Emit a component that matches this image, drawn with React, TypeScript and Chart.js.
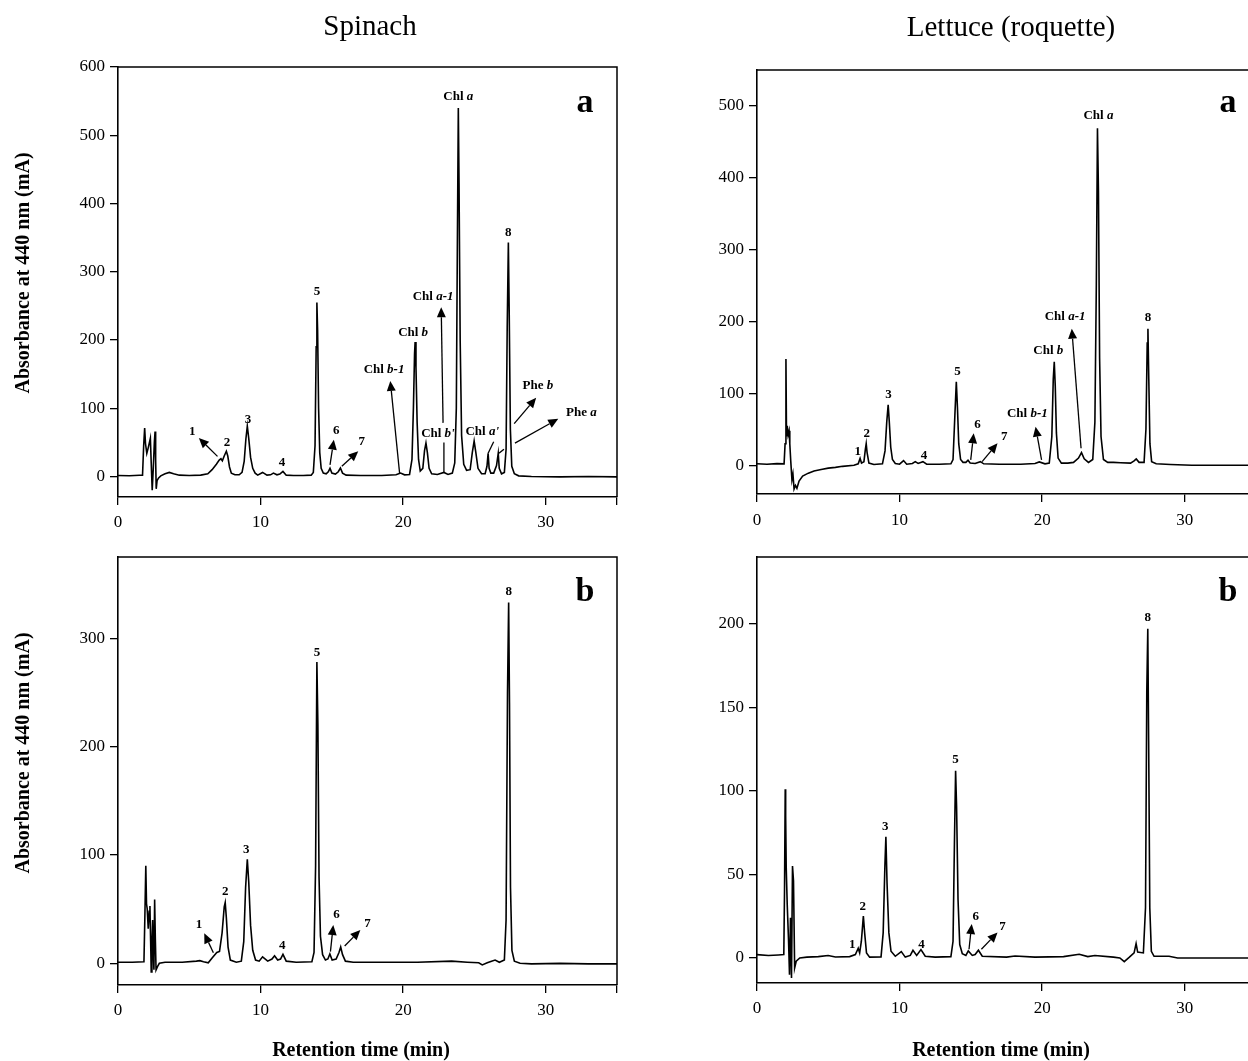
import React, { useEffect, useRef } from "react";
import { Chart, registerables } from "chart.js";

Chart.register(...registerables);

// ---------------- DATA ----------------
const X_TICKS = [0, 10, 20, 30, 35];
const Y_TICKS_SPINACH_A = [0, 100, 200, 300, 400, 500, 600];
const Y_TICKS_LETTUCE_A = [0, 100, 200, 300, 400, 500];
const Y_TICKS_SPINACH_B = [0, 100, 200, 300];
const Y_TICKS_LETTUCE_B = [0, 50, 100, 150, 200];

const PANEL_TITLES = ["Spinach", "Lettuce (roquette)"];
const Y_TITLE = "Absorbance at 440 nm (mA)";
const X_TITLE = "Retention time (min)";

// [retention time (min), absorbance (mA)]
const SPINACH_A: [number, number][] = [
  [0, 1.5], [0.8, 1.2], [1.5, 1.8], [1.72, 2], [1.8, 45], [1.87, 71], [1.93, 48], [2.02, 34], [2.12, 42], [2.27, 56],
  [2.33, 20], [2.4, -20], [2.47, 10], [2.55, 50], [2.6, 66], [2.64, 25], [2.68, -18], [2.74, -6], [2.85, -2], [3.0, 1],
  [3.3, 4], [3.6, 6], [3.9, 4], [4.3, 2], [5.0, 1.5], [5.8, 2], [6.3, 4], [6.6, 10], [6.9, 18], [7.1, 24], [7.22, 26],
  [7.32, 23], [7.45, 30], [7.6, 37], [7.7, 30], [7.82, 14], [7.95, 5], [8.2, 2.5], [8.5, 2.5], [8.7, 6], [8.85, 22],
  [8.97, 55], [9.07, 74], [9.17, 56], [9.3, 28], [9.45, 12], [9.62, 5], [9.8, 2], [10.14, 6], [10.45, 2], [10.7, 2.5],
  [10.9, 5], [11.15, 2.5], [11.35, 3.5], [11.57, 7.5], [11.8, 2], [12.3, 1.5], [13.0, 1.5], [13.55, 2], [13.7, 6],
  [13.82, 45], [13.9, 190], [13.95, 255], [14.0, 215], [14.07, 100], [14.15, 35], [14.25, 12], [14.4, 5], [14.6, 4],
  [14.75, 7], [14.87, 12], [15.0, 5], [15.25, 3.5], [15.45, 7], [15.6, 12.5], [15.75, 5], [16.0, 2], [17.0, 1.5],
  [18.5, 1.5], [19.5, 2.5], [19.82, 5], [20.1, 2.5], [20.45, 3], [20.62, 25], [20.72, 100], [20.8, 180], [20.84, 197],
  [20.9, 160], [20.98, 80], [21.08, 25], [21.2, 8], [21.38, 12], [21.5, 38], [21.6, 49], [21.7, 35], [21.82, 12],
  [22.0, 4], [22.4, 3], [22.86, 6], [23.15, 3], [23.45, 5], [23.62, 20], [23.73, 100], [23.8, 330], [23.87, 540],
  [23.92, 430], [24.0, 200], [24.1, 60], [24.25, 18], [24.45, 9], [24.7, 10], [24.85, 35], [24.98, 52], [25.1, 35],
  [25.25, 12], [25.5, 4], [25.75, 4], [25.88, 15], [25.96, 34], [26.03, 12], [26.15, 5], [26.35, 5], [26.55, 16],
  [26.67, 34], [26.74, 12], [26.9, 4], [27.1, 6], [27.22, 40], [27.3, 220], [27.38, 343], [27.44, 240], [27.52, 70],
  [27.62, 15], [27.8, 4], [28.1, 1], [29.0, 0], [31.0, -0.5], [33.0, 0], [35, -0.5],
];

const LETTUCE_A: [number, number][] = [
  [0, 2], [0.7, 1.5], [1.4, 2.2], [1.9, 2], [1.97, 30], [2.03, 148], [2.07, 40], [2.12, 55], [2.18, 42], [2.25, 48],
  [2.3, 30], [2.37, 5], [2.45, -20], [2.52, -12], [2.6, -33], [2.7, -28], [2.8, -32], [2.95, -22], [3.2, -15],
  [3.6, -11], [4.0, -8], [4.5, -6], [5.0, -4], [5.5, -3], [6.0, -1.5], [6.8, 0], [7.1, 2], [7.23, 9.5], [7.33, 3],
  [7.5, 5], [7.6, 22], [7.66, 30], [7.72, 18], [7.85, 3], [8.2, 1], [8.8, 2], [8.98, 20], [9.1, 60], [9.2, 84],
  [9.28, 60], [9.38, 25], [9.5, 8], [9.7, 2.5], [10.0, 1.5], [10.28, 6.5], [10.5, 1.5], [10.9, 2.5], [11.1, 5],
  [11.3, 2.5], [11.64, 5], [11.9, 1.5], [12.8, 1.5], [13.6, 2], [13.75, 8], [13.88, 70], [13.98, 116], [14.06, 80],
  [14.15, 30], [14.28, 8], [14.45, 4], [14.65, 4], [14.8, 7], [14.95, 3], [15.3, 2.5], [15.67, 5], [15.9, 2], [17.0, 1.5],
  [18.5, 1.5], [19.5, 2.5], [19.8, 4.6], [20.2, 2], [20.5, 3], [20.68, 40], [20.78, 120], [20.85, 144], [20.92, 110],
  [21.0, 45], [21.12, 10], [21.35, 3], [21.8, 3], [22.2, 4], [22.55, 10], [22.76, 17.6], [22.95, 9], [23.25, 4],
  [23.55, 8], [23.7, 60], [23.8, 250], [23.88, 469], [23.95, 380], [24.03, 150], [24.13, 40], [24.3, 8], [24.6, 4],
  [25.0, 4], [25.5, 3.5], [26.2, 3], [26.45, 6], [26.6, 8.8], [26.8, 4], [27.15, 4], [27.28, 50], [27.37, 170],
  [27.42, 190], [27.48, 120], [27.56, 30], [27.68, 5], [28.0, 2], [29.0, 1], [30.5, 0], [35, 0],
];

const SPINACH_B: [number, number][] = [
  [0, 1], [1.0, 1], [1.82, 1.5], [1.88, 40], [1.95, 90], [2.0, 55], [2.05, 50], [2.12, 32], [2.19, 48], [2.24, 53],
  [2.29, 20], [2.33, -8], [2.38, 18], [2.43, 40], [2.48, 8], [2.52, -6], [2.57, 59], [2.62, 22], [2.67, -6], [2.77, -3],
  [2.9, 0], [3.3, 1], [4.5, 1], [5.5, 2], [5.74, 2.5], [6.0, 1.5], [6.33, 0.5], [6.6, 5], [6.93, 10], [7.12, 11],
  [7.3, 28], [7.45, 52], [7.52, 56], [7.6, 42], [7.72, 15], [7.88, 3], [8.3, 1], [8.65, 2], [8.82, 20], [8.95, 70],
  [9.07, 96], [9.17, 75], [9.3, 35], [9.45, 12], [9.65, 3], [9.9, 2], [10.14, 6], [10.5, 2], [10.8, 4], [10.98, 7],
  [11.2, 3], [11.4, 4], [11.57, 8.3], [11.8, 2], [12.5, 1], [13.6, 1.5], [13.75, 10], [13.86, 90], [13.95, 278],
  [14.02, 220], [14.1, 80], [14.2, 25], [14.35, 8], [14.55, 3], [14.72, 4], [14.86, 8.6], [15.02, 3], [15.3, 4],
  [15.5, 10], [15.62, 15], [15.75, 8], [15.95, 2], [16.5, 1], [18.0, 1], [21.0, 1], [23.4, 2], [24.5, 1], [25.3, 0.5],
  [25.55, -1.5], [25.9, 0.5], [26.2, 2], [26.45, 3], [26.75, 1], [27.1, 3], [27.22, 40], [27.32, 250], [27.4, 333],
  [27.46, 240], [27.53, 70], [27.63, 12], [27.8, 2], [28.2, 0], [29.0, -0.5], [31.0, 0], [33.0, -0.5], [35, -0.5],
];

const LETTUCE_B: [number, number][] = [
  [0, 2], [0.8, 1.5], [1.5, 1.8], [1.88, 2], [1.93, 40], [1.98, 101], [2.01, 85], [2.05, 54], [2.12, 32], [2.21, 11],
  [2.28, -10], [2.35, 24], [2.42, -12], [2.49, 55], [2.56, 46], [2.64, -6], [2.75, -2], [3.0, 0], [3.5, 0.5], [4.3, 0.8],
  [4.99, 1.5], [5.5, 0.6], [6.5, 0.8], [6.9, 2], [7.1, 5.8], [7.2, 3], [7.32, 10], [7.46, 25], [7.55, 15], [7.68, 3],
  [7.9, 0.5], [8.7, 0.6], [8.85, 15], [8.97, 55], [9.04, 72.5], [9.12, 45], [9.25, 15], [9.4, 4], [9.7, 1], [10.12, 3.8],
  [10.4, 0.5], [10.75, 1.5], [10.94, 4.6], [11.2, 1.5], [11.5, 5], [11.8, 1], [12.5, 0.5], [13.6, 0.8], [13.75, 10],
  [13.85, 70], [13.93, 112], [14.0, 90], [14.1, 35], [14.22, 8], [14.4, 2.5], [14.65, 1.5], [14.82, 4.2], [15.1, 1.5],
  [15.3, 2], [15.53, 4.6], [15.8, 1], [17.5, 0.5], [18.1, 1.2], [19.5, 0.5], [21.5, 0.8], [22.6, 2.2], [23.2, 0.8],
  [23.7, 1.5], [25.0, 0.5], [25.45, 0], [25.76, -2.2], [26.1, 0.3], [26.45, 3], [26.59, 8.6], [26.7, 3.5], [27.1, 3],
  [27.25, 30], [27.34, 160], [27.41, 197], [27.47, 130], [27.55, 30], [27.66, 4], [27.85, 1], [28.9, 1], [29.5, 0], [35, 0],
];

type Label = { t: number; v: number; text: string; it?: string };
type Arrow = { from: [number, number]; to: [number, number]; head: boolean };

const SPINACH_A_LABELS: Label[] = [
  { t: 5.2, v: 66, text: "1" }, { t: 7.65, v: 50, text: "2" }, { t: 9.12, v: 84, text: "3" },
  { t: 11.5, v: 20, text: "4" }, { t: 13.95, v: 271, text: "5" }, { t: 15.3, v: 67, text: "6" },
  { t: 17.09, v: 51, text: "7" }, { t: 27.38, v: 358, text: "8" },
  { t: 18.66, v: 157, text: "Chl ", it: "b-1" }, { t: 20.7, v: 211, text: "Chl ", it: "b" },
  { t: 22.1, v: 263, text: "Chl ", it: "a-1" }, { t: 22.44, v: 63, text: "Chl ", it: "b'" },
  { t: 23.87, v: 556, text: "Chl ", it: "a" }, { t: 25.55, v: 66, text: "Chl ", it: "a'" },
  { t: 29.45, v: 133, text: "Phe ", it: "b" }, { t: 32.5, v: 93, text: "Phe ", it: "a" },
];
const SPINACH_A_ARROWS: Arrow[] = [
  { from: [6.98, 29.5], to: [5.67, 56.5], head: true },
  { from: [14.87, 17], to: [15.14, 54], head: true },
  { from: [15.7, 15], to: [16.85, 37], head: true },
  { from: [19.75, 5], to: [19.1, 140], head: true },
  { from: [22.8, 78.6], to: [22.67, 248], head: true },
  { from: [22.86, 6], to: [22.86, 50], head: false },
  { from: [25.96, 34], to: [26.35, 51], head: false },
  { from: [26.72, 34], to: [27.07, 40], head: false },
  { from: [27.79, 77.6], to: [29.33, 115.5], head: true },
  { from: [27.84, 49], to: [30.88, 84.5], head: true },
];

const LETTUCE_A_LABELS: Label[] = [
  { t: 7.07, v: 19, text: "1" }, { t: 7.7, v: 44, text: "2" }, { t: 9.23, v: 98, text: "3" },
  { t: 11.71, v: 14, text: "4" }, { t: 14.06, v: 130, text: "5" }, { t: 15.46, v: 57, text: "6" },
  { t: 17.34, v: 40, text: "7" }, { t: 27.42, v: 205, text: "8" },
  { t: 18.96, v: 72, text: "Chl ", it: "b-1" }, { t: 20.43, v: 160, text: "Chl ", it: "b" },
  { t: 21.61, v: 207, text: "Chl ", it: "a-1" }, { t: 23.95, v: 487, text: "Chl ", it: "a" },
];
const LETTUCE_A_ARROWS: Arrow[] = [
  { from: [14.99, 7.4], to: [15.2, 44.4], head: true },
  { from: [15.79, 5], to: [16.87, 30.6], head: true },
  { from: [19.96, 7.4], to: [19.54, 53.7], head: true },
  { from: [22.73, 23.6], to: [22.08, 190], head: true },
];

const SPINACH_B_LABELS: Label[] = [
  { t: 5.69, v: 36, text: "1" }, { t: 7.52, v: 66, text: "2" }, { t: 9.0, v: 105, text: "3" },
  { t: 11.52, v: 16, text: "4" }, { t: 13.95, v: 287, text: "5" }, { t: 15.33, v: 45, text: "6" },
  { t: 17.5, v: 37, text: "7" }, { t: 27.4, v: 343, text: "8" },
];
const SPINACH_B_ARROWS: Arrow[] = [
  { from: [6.69, 9.8], to: [6.05, 27.7], head: true },
  { from: [14.9, 10.8], to: [15.1, 35.4], head: true },
  { from: [15.9, 16], to: [17.0, 30.8], head: true },
];

const LETTUCE_B_LABELS: Label[] = [
  { t: 6.68, v: 8.2, text: "1" }, { t: 7.41, v: 30.7, text: "2" }, { t: 8.99, v: 78.5, text: "3" },
  { t: 11.53, v: 8.2, text: "4" }, { t: 13.93, v: 118.5, text: "5" }, { t: 15.34, v: 25, text: "6" },
  { t: 17.22, v: 18.7, text: "7" }, { t: 27.41, v: 203.5, text: "8" },
];
const LETTUCE_B_ARROWS: Arrow[] = [
  { from: [14.87, 5.2], to: [15.06, 20.3], head: true },
  { from: [15.74, 5.2], to: [16.87, 15.3], head: true },
];

// ---------------- LAYOUT / STYLE ----------------
const SERIF = "'Liberation Serif', 'Times New Roman', serif";

type TextItem = { x: number; y: number; text: string; font: string; rotate?: boolean; baseline?: CanvasTextBaseline };

type PanelCfg = {
  key: string; left: number; top: number; w: number; h: number;
  padTop: number; padRight: number; yW: number; xH: number;
  yMin: number; yMax: number; yTicks: number[];
  trace: [number, number][]; labels: Label[]; arrows: Arrow[]; texts: TextItem[]; xPad: number;
};

const PANELS: PanelCfg[] = [
  {
    key: "sa", left: 0, top: 0, w: 640, h: 540, padTop: 67, padRight: 23, yW: 118, xH: 43,
    yMin: -30, yMax: 600, yTicks: Y_TICKS_SPINACH_A, trace: SPINACH_A, labels: SPINACH_A_LABELS, arrows: SPINACH_A_ARROWS, xPad: 7,
    texts: [
      { x: 370, y: 35, text: PANEL_TITLES[0], font: `29px ${SERIF}`, baseline: "alphabetic" },
      { x: 585, y: 112, text: "a", font: `bold 34px ${SERIF}`, baseline: "alphabetic" },
      { x: 24, y: 273, text: Y_TITLE, font: `bold 20px ${SERIF}`, rotate: true },
    ],
  },
  {
    key: "la", left: 640, top: 0, w: 640, h: 540, padTop: 70, padRight: 24, yW: 117, xH: 46,
    yMin: -40, yMax: 550, yTicks: Y_TICKS_LETTUCE_A, trace: LETTUCE_A, labels: LETTUCE_A_LABELS, arrows: LETTUCE_A_ARROWS, xPad: 8,
    texts: [
      { x: 371, y: 36, text: PANEL_TITLES[1], font: `29px ${SERIF}`, baseline: "alphabetic" },
      { x: 588, y: 112, text: "a", font: `bold 34px ${SERIF}`, baseline: "alphabetic" },
    ],
  },
  {
    key: "sb", left: 0, top: 540, w: 640, h: 521, padTop: 17, padRight: 23, yW: 118, xH: 76,
    yMin: -20, yMax: 375, yTicks: Y_TICKS_SPINACH_B, trace: SPINACH_B, labels: SPINACH_B_LABELS, arrows: SPINACH_B_ARROWS, xPad: 7,
    texts: [
      { x: 585, y: 61, text: "b", font: `bold 34px ${SERIF}`, baseline: "alphabetic" },
      { x: 24, y: 213, text: Y_TITLE, font: `bold 20px ${SERIF}`, rotate: true },
      { x: 361, y: 511, text: X_TITLE, font: `bold 20px ${SERIF}` },
    ],
  },
  {
    key: "lb", left: 640, top: 540, w: 640, h: 521, padTop: 17, padRight: 24, yW: 117, xH: 78,
    yMin: -15, yMax: 240, yTicks: Y_TICKS_LETTUCE_B, trace: LETTUCE_B, labels: LETTUCE_B_LABELS, arrows: LETTUCE_B_ARROWS, xPad: 7,
    texts: [
      { x: 588, y: 61, text: "b", font: `bold 34px ${SERIF}`, baseline: "alphabetic" },
      { x: 361, y: 511, text: X_TITLE, font: `bold 20px ${SERIF}` },
    ],
  },
];

function makeAnnot(p: PanelCfg) {
  return {
    id: "annot_" + p.key,
    afterDraw(chart: any) {
      const { ctx, chartArea: a } = chart;
      const xs = chart.scales.x;
      const ys = chart.scales.y;
      const px = (t: number) => xs.getPixelForValue(t);
      const py = (v: number) => ys.getPixelForValue(v);
      ctx.save();
      ctx.strokeStyle = "#000";
      ctx.fillStyle = "#000";
      // frame (top & right)
      ctx.lineWidth = 1.5;
      ctx.beginPath();
      ctx.moveTo(a.left, a.top);
      ctx.lineTo(a.right, a.top);
      ctx.lineTo(a.right, a.bottom);
      ctx.stroke();
      // arrows / leader lines
      ctx.lineWidth = 1.3;
      for (const ar of p.arrows) {
        const x1 = px(ar.from[0]), y1 = py(ar.from[1]);
        const x2 = px(ar.to[0]), y2 = py(ar.to[1]);
        const ang = Math.atan2(y2 - y1, x2 - x1);
        const L = ar.head ? 10 : 0;
        const W = 4.5;
        const bx = x2 - L * Math.cos(ang), by = y2 - L * Math.sin(ang);
        ctx.beginPath();
        ctx.moveTo(x1, y1);
        ctx.lineTo(bx, by);
        ctx.stroke();
        if (ar.head) {
          ctx.beginPath();
          ctx.moveTo(x2, y2);
          ctx.lineTo(bx + W * Math.sin(ang), by - W * Math.cos(ang));
          ctx.lineTo(bx - W * Math.sin(ang), by + W * Math.cos(ang));
          ctx.closePath();
          ctx.fill();
        }
      }
      // peak labels
      ctx.textBaseline = "middle";
      ctx.textAlign = "left";
      const f1 = `bold 13px ${SERIF}`;
      const f2 = `italic bold 13px ${SERIF}`;
      for (const lb of p.labels) {
        ctx.font = f1;
        const w1 = ctx.measureText(lb.text).width;
        let w2 = 0;
        if (lb.it) {
          ctx.font = f2;
          w2 = ctx.measureText(lb.it).width;
        }
        const x0 = px(lb.t) - (w1 + w2) / 2;
        const y0 = py(lb.v);
        ctx.font = f1;
        ctx.fillText(lb.text, x0, y0);
        if (lb.it) {
          ctx.font = f2;
          ctx.fillText(lb.it, x0 + w1, y0);
        }
      }
      // titles, axis titles, panel letters
      for (const tx of p.texts) {
        ctx.save();
        ctx.font = tx.font;
        ctx.textAlign = "center";
        ctx.textBaseline = tx.baseline || "middle";
        ctx.translate(tx.x, tx.y);
        if (tx.rotate) ctx.rotate(-Math.PI / 2);
        ctx.fillText(tx.text, 0, 0);
        ctx.restore();
      }
      ctx.restore();
    },
  };
}

function Panel({ p }: { p: PanelCfg }) {
  const ref = useRef<HTMLCanvasElement>(null);
  useEffect(() => {
    const canvas = ref.current!;
    const chart = new Chart(canvas, {
      type: "line",
      data: {
        datasets: [
          {
            data: p.trace.map(([t, v]) => ({ x: t, y: v })),
            borderColor: "#000",
            borderWidth: 1.6,
            pointRadius: 0,
            tension: 0,
            fill: false,
          },
        ],
      },
      options: {
        animation: false,
        responsive: false,
        events: [],
        layout: { padding: { left: 0, top: p.padTop, right: p.padRight, bottom: 0 } },
        plugins: { legend: { display: false }, tooltip: { enabled: false }, title: { display: false } },
        scales: {
          x: {
            type: "linear",
            min: 0,
            max: 35,
            afterBuildTicks: (s: any) => {
              s.ticks = X_TICKS.map((v) => ({ value: v }));
            },
            afterFit: (s: any) => {
              s.height = p.xH;
            },
            grid: { display: true, drawOnChartArea: false, drawTicks: true, tickLength: 8, color: "#000", lineWidth: 1.3 },
            border: { display: true, color: "#000", width: 1.6 },
            ticks: {
              color: "#000",
              font: { family: SERIF, size: 17 },
              padding: p.xPad,
              maxRotation: 0,
              autoSkip: false,
              callback: (v: any) => (Number(v) % 10 === 0 ? String(v) : ""),
            },
          },
          y: {
            type: "linear",
            min: p.yMin,
            max: p.yMax,
            afterBuildTicks: (s: any) => {
              s.ticks = p.yTicks.map((v) => ({ value: v }));
            },
            afterFit: (s: any) => {
              s.width = p.yW;
            },
            grid: { display: true, drawOnChartArea: false, drawTicks: true, tickLength: 8, color: "#000", lineWidth: 1.3 },
            border: { display: true, color: "#000", width: 1.6 },
            ticks: {
              color: "#000",
              font: { family: SERIF, size: 17 },
              padding: 5,
              autoSkip: false,
              callback: (v: any) => String(v),
            },
          },
        },
      },
      plugins: [makeAnnot(p)],
    } as any);
    return () => chart.destroy();
  }, []);
  return (
    <canvas
      ref={ref}
      width={p.w}
      height={p.h}
      style={{ position: "absolute", left: p.left, top: p.top, width: p.w, height: p.h }}
    />
  );
}

export default function App() {
  return (
    <div
      style={{
        position: "absolute",
        left: 0,
        top: 0,
        width: 1248,
        height: 1061,
        overflow: "hidden",
        background: "#fff",
      }}
    >
      {PANELS.map((p) => (
        <Panel key={p.key} p={p} />
      ))}
    </div>
  );
}
